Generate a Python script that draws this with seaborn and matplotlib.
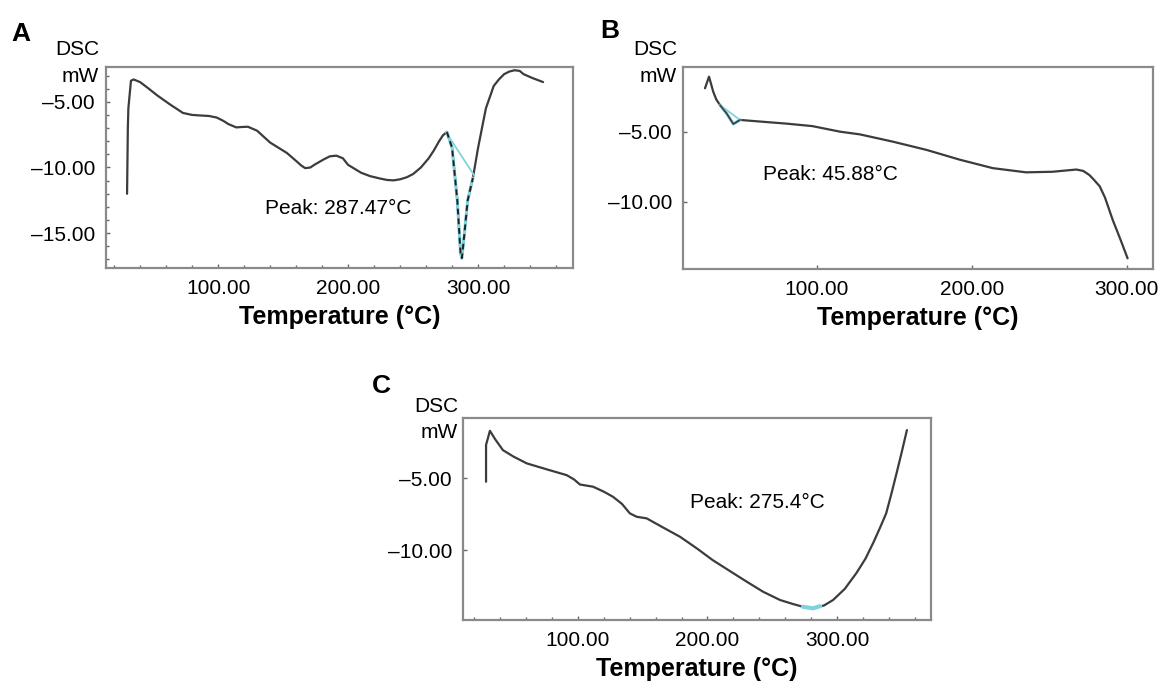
import numpy as np
import pandas as pd
import matplotlib
matplotlib.use("Agg")
import matplotlib.pyplot as plt
import seaborn as sns
from matplotlib.ticker import MultipleLocator

# ---- data (temperature in degC, heat flow in mW) ----
temp_a = [30, 30.3, 30.6, 31, 33, 35, 40, 46, 53, 63, 73, 80, 86, 93, 99, 104, 108,
          114, 118, 123, 130, 140, 153, 160, 164, 167, 171, 174, 181, 186, 191,
          196, 200, 210, 217, 225, 230, 235, 240, 245, 250, 256, 262, 266, 270,
          273, 276, 280, 284, 286.5, 287.5, 289, 292, 296, 300, 306, 312, 316,
          320, 324, 328, 332, 335, 342, 350]
dsc_a = [-12.0, -9.5, -7.0, -5.5, -3.4, -3.3, -3.5, -3.95, -4.5, -5.2, -5.85, -6.0,
         -6.04, -6.08, -6.2, -6.45, -6.7, -6.95, -6.92, -6.9, -7.2, -8.1, -8.9,
         -9.5, -9.85, -10.05, -10.0, -9.8, -9.4, -9.15, -9.1, -9.3, -9.8, -10.4,
         -10.66, -10.85, -10.95, -10.98, -10.9, -10.75, -10.5, -10.0, -9.3, -8.7,
         -8.0, -7.55, -7.3, -8.5, -12.5, -16.5, -16.9, -15.5, -12.5, -10.8, -8.5,
         -5.5, -3.8, -3.3, -2.9, -2.7, -2.6, -2.65, -2.9, -3.2, -3.5]
peak_a_temp = [276, 280, 284, 286.5, 287.5, 289, 292, 296]
peak_a_dsc = [-7.3, -8.5, -12.5, -16.5, -16.9, -15.5, -12.5, -10.8]
base_a_temp = [275.5, 297]
base_a_dsc = [-7.35, -10.6]

temp_b = [27.7, 30.3, 33, 35, 37.4, 41.7, 46, 50.3, 65, 80, 97, 115, 127.7, 149,
          170.8, 192.3, 213.5, 235, 252, 267.5, 272, 276, 279, 282.6, 286, 291,
          296, 300.6]
dsc_b = [-1.9, -1.07, -2.14, -2.7, -3.1, -3.7, -4.45, -4.16, -4.29, -4.42, -4.6,
         -5.0, -5.19, -5.71, -6.3, -7.0, -7.6, -7.9, -7.86, -7.7, -7.8, -8.1,
         -8.45, -8.9, -9.7, -11.3, -12.7, -14.04]
peak_b_temp = [37.4, 41.7, 46, 50.3]
peak_b_dsc = [-3.1, -3.7, -4.45, -4.16]
base_b_temp = [37.4, 50.3]
base_b_dsc = [-3.1, -4.16]

temp_c = [29, 29, 32, 36, 42, 50, 60.4, 76, 91.3, 97, 101.5, 111.6, 120, 127, 134,
          140, 145.3, 153, 165, 178.8, 192, 204, 218, 230.3, 243, 256, 266, 273.7,
          281.5, 290, 297, 306, 315, 322, 328, 333, 338, 342, 346, 350, 354]
dsc_c = [-5.26, -2.7, -1.72, -2.3, -3.06, -3.5, -3.98, -4.4, -4.8, -5.1, -5.45,
         -5.6, -5.95, -6.3, -6.8, -7.45, -7.69, -7.8, -8.4, -9.08, -9.9, -10.7,
         -11.5, -12.2, -12.9, -13.47, -13.75, -13.94, -14.05, -13.85, -13.47,
         -12.7, -11.6, -10.6, -9.5, -8.5, -7.45, -6.1, -4.67, -3.2, -1.67]
peak_c_temp = [273.7, 281.5, 287]
peak_c_dsc = [-13.94, -14.05, -13.9]

x_ticks = [100, 200, 300]
x_labels = ["100.00", "200.00", "300.00"]
y_ticks_a = [-15, -10, -5]
y_labels_a = ["\u201315.00", "\u201310.00", "\u20135.00"]
y_ticks_bc = [-10, -5]
y_labels_bc = ["\u201310.00", "\u20135.00"]
peak_texts = ["Peak: 287.47\u00b0C", "Peak: 45.88\u00b0C", "Peak: 275.4\u00b0C"]

sns.set_theme(style="white")
plt.rcParams['font.family'] = ['Liberation Sans', 'DejaVu Sans']
plt.rcParams['text.color'] = 'black'
plt.rcParams['xtick.labelcolor'] = 'black'
plt.rcParams['ytick.labelcolor'] = 'black'

W, H = 1159, 681
fig = plt.figure(figsize=(W / 100, H / 100), dpi=100)


def box(l, t, r, b):
    return [l / W, 1 - b / H, (r - l) / W, (b - t) / H]


def fx(px):
    return px / W


def fy(py):
    return 1 - py / H


line_col = "#3c3c3c"
cyan = "#7fd3df"
frame_col = "#8a8a8a"


def style_axes(ax, xlim, ylim, yt, yl, minor_x, minor_y):
    ax.set_xlim(*xlim)
    ax.set_ylim(*ylim)
    ax.set_xticks(x_ticks)
    ax.set_xticklabels(x_labels)
    ax.set_yticks(yt)
    ax.set_yticklabels(yl)
    if minor_x:
        ax.xaxis.set_minor_locator(MultipleLocator(20))
    if minor_y:
        ax.yaxis.set_minor_locator(MultipleLocator(1))
    ax.tick_params(axis="both", which="both", direction="in", length=3,
                   width=1, color="#666666", labelsize=15, pad=8,
                   labelcolor="black", bottom=True, left=True)
    ax.tick_params(axis="both", which="minor", length=2)
    for s in ax.spines.values():
        s.set_color(frame_col)
        s.set_linewidth(1.6)
    ax.set_xlabel("")
    ax.set_ylabel("")


# ---- panel A ----
axA = fig.add_axes(box(106, 66.7, 573, 268))
sns.lineplot(x=temp_a, y=dsc_a, ax=axA, sort=False, estimator=None,
             color=line_col, lw=1.6)
axA.plot(base_a_temp, base_a_dsc, color=cyan, lw=1.3)
axA.plot(peak_a_temp, peak_a_dsc, color=cyan, lw=2.2)
axA.plot(peak_a_temp, peak_a_dsc, color="#222222", lw=1.4, ls=(0, (3, 2)))
style_axes(axA, (13.8, 373), (-17.65, -2.33), y_ticks_a, y_labels_a, True, True)
axA.text(fx(265), fy(209), peak_texts[0], transform=fig.transFigure,
         fontsize=15, va="center", ha="left")

# ---- panel B ----
axB = fig.add_axes(box(683, 66.7, 1153, 269))
sns.lineplot(x=temp_b, y=dsc_b, ax=axB, sort=False, estimator=None,
             color=line_col, lw=1.6)
axB.plot(peak_b_temp, peak_b_dsc, color=cyan, lw=2.2)
axB.plot(base_b_temp, base_b_dsc, color=cyan, lw=1.3)
axB.plot(peak_b_temp, peak_b_dsc, color=line_col, lw=1.2)
style_axes(axB, (13.5, 317), (-14.8, -0.36), y_ticks_bc, y_labels_bc, False, False)
axB.text(fx(763), fy(175), peak_texts[1], transform=fig.transFigure,
         fontsize=15, va="center", ha="left")

# ---- panel C ----
axC = fig.add_axes(box(463, 418, 931, 620))
sns.lineplot(x=temp_c, y=dsc_c, ax=axC, sort=False, estimator=None,
             color=line_col, lw=1.6)
axC.plot(peak_c_temp, peak_c_dsc, color=cyan, lw=3)
style_axes(axC, (11.2, 372.6), (-14.86, -0.83), y_ticks_bc, y_labels_bc, True, False)
axC.text(fx(690), fy(503), peak_texts[2], transform=fig.transFigure,
         fontsize=15, va="center", ha="left")

# ---- labels around panels ----
for letter, (lx, ly) in zip("ABC", [(11, 41), (600, 38), (372, 393)]):
    fig.text(fx(lx), fy(ly), letter, fontsize=19, fontweight="bold",
             ha="left", va="baseline")

for (rx, y1, y2) in [(99, 55, 82), (677, 55, 82), (458, 412, 438)]:
    fig.text(fx(rx), fy(y1), "DSC", fontsize=15, ha="right", va="baseline")
    fig.text(fx(rx), fy(y2), "mW", fontsize=15, ha="right", va="baseline")

for ax in (axA, axB, axC):
    pos = ax.get_position()
    cx = (pos.x0 + pos.x1) / 2
    fig.text(cx, pos.y0 - 49 / H, "Temperature (\u00b0C)", fontsize=18,
             fontweight="bold", ha="center", va="center")

fig.savefig("out.png", dpi=100)
